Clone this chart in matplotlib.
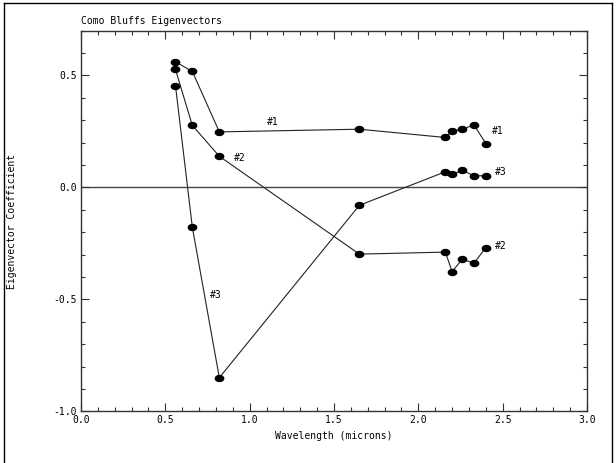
import matplotlib
matplotlib.use("Agg")
import numpy as np
import matplotlib.pyplot as plt
from matplotlib.ticker import MultipleLocator, FormatStrFormatter
from matplotlib.lines import Line2D
from matplotlib.path import Path

# comprimentos de onda das bandas (microns)
wavelength = [0.56, 0.66, 0.82, 1.65, 2.16, 2.20, 2.26, 2.33, 2.40]

# coeficientes dos autovetores
eig1 = [0.561, 0.518, 0.248, 0.260, 0.223, 0.252, 0.260, 0.279, 0.196]
eig2 = [0.527, 0.277, 0.139, -0.298, -0.289, -0.376, -0.321, -0.338, -0.269]
eig3 = [0.455, -0.178, -0.850, -0.080, 0.070, 0.058, 0.076, 0.052, 0.052]

# rotulos (texto, x, y)
labels = [
    ("#1", 1.14, 0.29), ("#1", 2.47, 0.25),
    ("#2", 0.94, 0.13), ("#2", 2.49, -0.26),
    ("#3", 0.80, -0.48), ("#3", 2.49, 0.07),
]

plt.rcParams["font.family"] = ["DejaVu Sans Mono"]

# marcador eliptico (mais largo que alto)
t = np.linspace(0, 2 * np.pi, 40)
ellipse = Path(np.column_stack([np.cos(t), 0.72 * np.sin(t)]), closed=True)

fig = plt.figure(figsize=(6.16, 4.63), dpi=100)
ax = fig.add_axes([0.1315, 0.1117, 0.8215, 0.822])

# linha do zero
ax.axhline(0.0, color="#444444", lw=1.0, zorder=1)

for serie in (eig1, eig2, eig3):
    ax.plot(wavelength, serie, color="#222222", lw=0.8, marker=ellipse,
            markersize=6, markerfacecolor="black", markeredgecolor="black",
            zorder=3)

for txt, x, y in labels:
    ax.text(x, y, txt, fontsize=7, ha="center", va="center")

ax.set_xlim(0.0, 3.0)
ax.set_ylim(-1.0, 0.7)
ax.xaxis.set_major_locator(MultipleLocator(0.5))
ax.xaxis.set_minor_locator(MultipleLocator(0.1))
ax.yaxis.set_major_locator(MultipleLocator(0.5))
ax.yaxis.set_minor_locator(MultipleLocator(0.1))
ax.xaxis.set_major_formatter(FormatStrFormatter("%.1f"))
ax.yaxis.set_major_formatter(FormatStrFormatter("%.1f"))

ax.tick_params(which="both", direction="in", top=True, right=True,
               labelsize=7, color="#333333", width=0.8)
ax.tick_params(which="major", length=6, pad=3)
ax.tick_params(which="minor", length=3)

for sp in ax.spines.values():
    sp.set_color("#333333")
    sp.set_linewidth(1.0)

ax.set_xlabel("Wavelength (microns)", fontsize=7, labelpad=4)
ax.set_ylabel("Eigenvector Coefficient", fontsize=7)
ax.yaxis.set_label_coords(-0.127, 0.5)

fig.text(0.1315, 0.955, "Como Bluffs Eigenvectors", fontsize=7,
         ha="left", va="center")

# moldura externa
for xs, ys in [([0.006, 0.006], [0.0, 0.993]), ([0.006, 0.993], [0.993, 0.993]),
               ([0.993, 0.993], [0.0, 0.993])]:
    fig.add_artist(Line2D(xs, ys, transform=fig.transFigure, color="black",
                          lw=1.0))

fig.savefig("out.png", dpi=100)
